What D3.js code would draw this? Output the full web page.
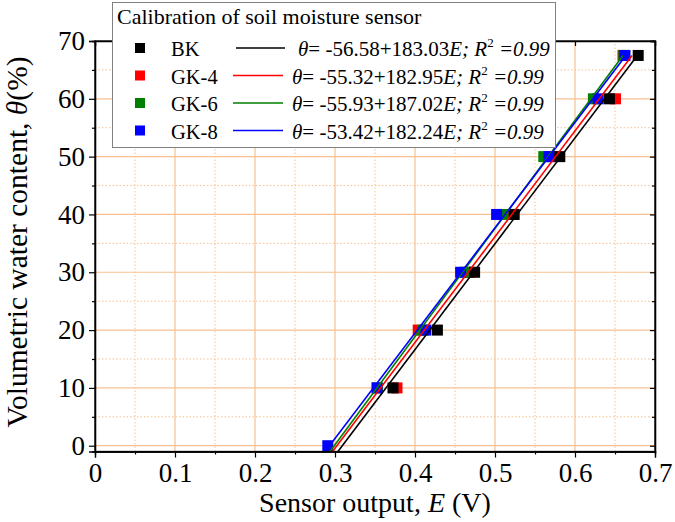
<!DOCTYPE html>
<html><head><meta charset="utf-8">
<script src="https://cdn.jsdelivr.net/npm/d3@7"></script>
<style>body{margin:0;background:#fff}svg{display:block}text{font-family:"Liberation Serif","Times New Roman",serif}</style>
</head><body><svg id="c" width="675" height="522"></svg>
<script>
// ---- data ----
const seriesNames = ["BK", "GK-4", "GK-6", "GK-8"];
const seriesColors = ["#000000", "#ff0000", "#008000", "#0000ff"];
const intercepts = [-56.58, -55.32, -55.93, -53.42];
const slopes = [183.03, 182.95, 187.02, 182.24];
const rSquared = ["0.99", "0.99", "0.99", "0.99"];
const thetaLevels = [0, 10, 20, 30, 40, 50, 60, 67.5];
const bkE  = [null, 0.3725, 0.428, 0.4745, 0.524, 0.581, 0.643, 0.679];
const gk4E = [null, 0.3775, 0.404, 0.468, 0.522, 0.572, 0.6506, 0.660];
const gk6E = [null, 0.353, 0.410, 0.463, 0.510, 0.561, 0.623, 0.661];
const gk8E = [0.291, 0.3525, 0.4135, 0.457, 0.502, 0.5675, 0.629, 0.6625];
const seriesE = [bkE, gk4E, gk6E, gk8E];
const xTicks = [0, 0.1, 0.2, 0.3, 0.4, 0.5, 0.6, 0.7];
const yTicks = [0, 10, 20, 30, 40, 50, 60, 70];
const lineThetaRange = [-1, 67.5];

const svg = d3.select("#c");
const x = d3.scaleLinear().domain([0, 0.7]).range([95, 655]);
const y = d3.scaleLinear().domain([-1, 70]).range([451.5, 41]);
const grid = "#f8c090";

// minor grid
const xMinor = d3.range(0.05, 0.7, 0.1);
const yMinor = d3.range(5, 70, 10);
const g = svg.append("g");
g.selectAll(".vmin").data(xMinor).join("line")
  .attr("x1", d => x(d)).attr("x2", d => x(d)).attr("y1", y.range()[0]).attr("y2", y.range()[1])
  .attr("stroke", grid).attr("stroke-width", 1).attr("stroke-dasharray", "1.5,2");
g.selectAll(".hmin").data(yMinor).join("line")
  .attr("y1", d => y(d)).attr("y2", d => y(d)).attr("x1", x.range()[0]).attr("x2", x.range()[1])
  .attr("stroke", grid).attr("stroke-width", 1).attr("stroke-dasharray", "1.5,2");
// major grid
g.selectAll(".vmaj").data(xTicks.slice(1, -1)).join("line")
  .attr("x1", d => x(d)).attr("x2", d => x(d)).attr("y1", y.range()[0]).attr("y2", y.range()[1])
  .attr("stroke", grid).attr("stroke-width", 1.2);
g.selectAll(".hmaj").data(yTicks.slice(0, -1)).join("line")
  .attr("y1", d => y(d)).attr("y2", d => y(d)).attr("x1", x.range()[0]).attr("x2", x.range()[1])
  .attr("stroke", grid).attr("stroke-width", 1.2);

// markers (drawing order: GK-4, GK-6, GK-8, BK)
const order = [1, 2, 3, 0];
const ms = 11;
order.forEach(i => {
  const pts = thetaLevels.map((t, k) => ({t, e: seriesE[i][k]})).filter(p => p.e != null);
  svg.append("g").selectAll("rect").data(pts).join("rect")
    .attr("x", d => x(d.e) - ms / 2).attr("y", d => y(d.t) - ms / 2)
    .attr("width", ms).attr("height", ms).attr("fill", seriesColors[i]);
});
// fit lines
const line = d3.line().x(d => x(d[0])).y(d => y(d[1]));
[0, 1, 2, 3].forEach(i => {
  const pts = lineThetaRange.map(t => [(t - intercepts[i]) / slopes[i], t]);
  svg.append("path").attr("d", line(pts)).attr("fill", "none")
    .attr("stroke", seriesColors[i]).attr("stroke-width", 1.6);
});

// axes
const fs = 27;
const xAxis = svg.append("g").attr("transform", `translate(0,${y.range()[0]})`)
  .call(d3.axisBottom(x).tickValues(xTicks).tickFormat(d => d === 0 ? "0" : d.toFixed(1)).tickSize(6).tickPadding(5));
xAxis.selectAll("text").attr("font-size", fs).attr("fill", "#000");
svg.append("g").attr("transform", `translate(0,${y.range()[0]})`)
  .call(d3.axisBottom(x).tickValues(xMinor).tickFormat("").tickSize(3));
const yAxis = svg.append("g").attr("transform", `translate(${x.range()[0]},0)`)
  .call(d3.axisLeft(y).tickValues(yTicks).tickSize(6).tickPadding(4));
yAxis.selectAll("text").attr("font-size", fs).attr("fill", "#000");
svg.append("g").attr("transform", `translate(${x.range()[0]},0)`)
  .call(d3.axisLeft(y).tickValues(yMinor).tickFormat("").tickSize(3));
svg.append("g").attr("transform", `translate(${x.range()[1]},0)`)
  .call(d3.axisLeft(y).tickValues(yTicks).tickFormat("").tickSize(5));
svg.append("g").attr("transform", `translate(${x.range()[1]},0)`)
  .call(d3.axisLeft(y).tickValues(yMinor).tickFormat("").tickSize(3));
svg.append("g").attr("transform", `translate(0,${y.range()[1]})`)
  .call(d3.axisBottom(x).tickValues(xTicks).tickFormat("").tickSize(5));
svg.selectAll(".domain").attr("stroke", "#000").attr("stroke-width", 1.3);
svg.selectAll(".tick line").attr("stroke", "#000").attr("stroke-width", 1.2);
svg.append("rect").attr("x", x.range()[0]).attr("y", y.range()[1])
  .attr("width", x.range()[1] - x.range()[0]).attr("height", y.range()[0] - y.range()[1])
  .attr("fill", "none").attr("stroke", "#000").attr("stroke-width", 1.3);

// axis titles
const xt = svg.append("text").attr("x", (x.range()[0] + x.range()[1]) / 2).attr("y", 512)
  .attr("text-anchor", "middle").attr("font-size", 28);
xt.append("tspan").text("Sensor output, ");
xt.append("tspan").attr("font-style", "italic").text("E");
xt.append("tspan").text(" (V)");
const yt = svg.append("text").attr("transform", "translate(27,242) rotate(-90)")
  .attr("text-anchor", "middle").attr("font-size", 29.5);
yt.append("tspan").text("Volumetric water content, ");
yt.append("tspan").attr("font-style", "italic").text("θ");
yt.append("tspan").text("(%)");

// legend
const lg = svg.append("g");
lg.append("rect").attr("x", 112.5).attr("y", 2.5).attr("width", 443).attr("height", 145)
  .attr("fill", "#fff").attr("stroke", "#808080").attr("stroke-width", 1);
lg.append("text").attr("x", 117).attr("y", 24).attr("font-size", 22).text("Calibration of soil moisture sensor");
const rowY = [48, 75.5, 103, 130.5];
const lineX = [[236, 285], [233, 283], [233, 283], [233, 283]];
const eqX = [298, 292, 292, 292];
seriesNames.forEach((nm, i) => {
  const cy = rowY[i];
  lg.append("rect").attr("x", 135).attr("y", cy - 5).attr("width", 10).attr("height", 10).attr("fill", seriesColors[i]);
  lg.append("text").attr("x", 171).attr("y", cy + 8).attr("font-size", 20.5).text(nm);
  lg.append("line").attr("x1", lineX[i][0]).attr("x2", lineX[i][1]).attr("y1", cy).attr("y2", cy)
    .attr("stroke", seriesColors[i]).attr("stroke-width", 1.6);
  const t = lg.append("text").attr("x", eqX[i]).attr("y", cy + 8).attr("font-size", 21);
  t.append("tspan").attr("font-style", "italic").text("θ");
  t.append("tspan").text("= " + intercepts[i].toFixed(2) + "+" + slopes[i].toFixed(2));
  t.append("tspan").attr("font-style", "italic").text("E; R");
  t.append("tspan").attr("font-size", 13).attr("dy", -9).text("2");
  t.append("tspan").attr("font-style", "italic").attr("dy", 9).text(" =" + rSquared[i]);
});
</script></body></html>
